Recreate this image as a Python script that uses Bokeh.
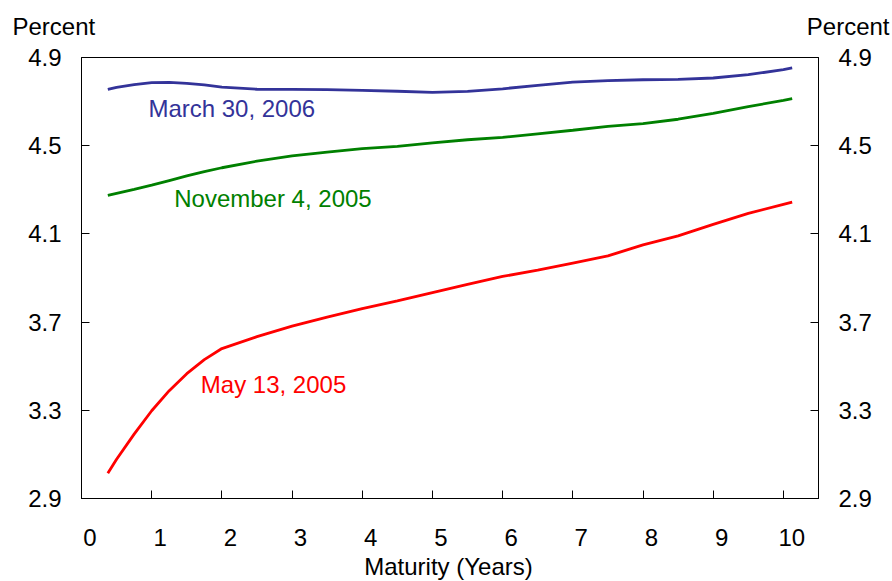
from bokeh.plotting import figure
from bokeh.models import Range1d, LinearAxis, FixedTicker, Label
from bokeh.embed import file_html
from bokeh.resources import INLINE

# ---- data ----
maturity = [0.375, 0.5, 0.75, 1.0, 1.25, 1.5, 1.75, 2.0, 2.5, 3.0, 3.5, 4.0, 4.5, 5.0,
            5.5, 6.0, 6.5, 7.0, 7.5, 8.0, 8.5, 9.0, 9.5, 10.0, 10.125]
mar_2006 = [4.755, 4.765, 4.777, 4.786, 4.787, 4.783, 4.776, 4.766, 4.756, 4.755, 4.754,
            4.751, 4.747, 4.742, 4.746, 4.758, 4.774, 4.788, 4.795, 4.799, 4.801, 4.807,
            4.822, 4.845, 4.853]
nov_2005 = [4.275, 4.284, 4.302, 4.321, 4.342, 4.363, 4.382, 4.400, 4.430, 4.454, 4.471,
            4.487, 4.497, 4.513, 4.527, 4.538, 4.554, 4.570, 4.588, 4.600, 4.620, 4.647,
            4.677, 4.706, 4.714]
may_2005 = [3.014, 3.078, 3.192, 3.298, 3.389, 3.466, 3.530, 3.580, 3.634, 3.682, 3.723,
            3.761, 3.796, 3.834, 3.871, 3.907, 3.936, 3.968, 4.000, 4.050, 4.091, 4.143,
            4.193, 4.234, 4.244]
series_names = ["March 30, 2006", "November 4, 2005", "May 13, 2005"]
x_ticks = [0, 1, 2, 3, 4, 5, 6, 7, 8, 9, 10]
y_ticks = [2.9, 3.3, 3.7, 4.1, 4.5, 4.9]
y_tick_labels = ["2.9", "3.3", "3.7", "4.1", "4.5", "4.9"]
unit_label = "Percent"
x_title = "Maturity (Years)"

FONT = "Liberation Sans"
FS = "24px"
BLUE, GREEN, RED = "#333399", "#008000", "#FF0000"

p = figure(width=892, height=581, x_range=Range1d(0, 10.5), y_range=Range1d(2.9, 4.9),
           output_backend="svg", toolbar_location=None,
           x_axis_location=None, y_axis_location=None,
           min_border_left=81, min_border_right=74, min_border_top=57, min_border_bottom=83)
p.grid.visible = False
p.outline_line_color = "black"
p.outline_line_width = 1
p.background_fill_color = "white"
p.border_fill_color = "white"

p.extra_x_ranges = {"lab": Range1d(-0.12, 10.38)}

# bottom axis: ticks only
ax_t = LinearAxis(ticker=FixedTicker(ticks=x_ticks), major_tick_in=8, major_tick_out=0,
                  minor_tick_line_color=None, axis_line_color="black",
                  major_tick_line_color="black",
                  major_label_overrides={t: "" for t in x_ticks}, major_label_standoff=0)
p.add_layout(ax_t, "below")
# bottom axis: labels (slightly offset right as in original)
ax_l = LinearAxis(x_range_name="lab", ticker=FixedTicker(ticks=x_ticks),
                  major_tick_line_color=None, minor_tick_line_color=None, axis_line_color=None,
                  major_label_text_font=FONT, major_label_text_font_size=FS,
                  major_label_text_color="black", major_label_standoff=24)
p.add_layout(ax_l, "below")

ovr = {t: s for t, s in zip(y_ticks, y_tick_labels)}
for side in ("left", "right"):
    ax = LinearAxis(ticker=FixedTicker(ticks=y_ticks), major_tick_in=8, major_tick_out=0,
                    minor_tick_line_color=None, axis_line_color="black",
                    major_tick_line_color="black", major_label_overrides=ovr,
                    major_label_text_font=FONT, major_label_text_font_size=FS,
                    major_label_text_color="black", major_label_standoff=20)
    p.add_layout(ax, side)

for ys, c in zip([mar_2006, nov_2005, may_2005], [BLUE, GREEN, RED]):
    p.line(maturity, ys, line_color=c, line_width=2.8)

label_pos = [(0.953, 4.670), (1.321, 4.262), (1.70, 3.419)]
for name, (lx, ly), c in zip(series_names, label_pos, [BLUE, GREEN, RED]):
    p.add_layout(Label(x=lx, y=ly, text=name, text_color=c, text_font=FONT,
                       text_font_size=FS, text_baseline="middle", text_align="left"))

# texts outside the frame go into side panels (so they are not clipped)
p.add_layout(Label(x=12, y=26, x_units="canvas", y_units="canvas", text=unit_label,
                   text_font=FONT, text_font_size=FS, text_baseline="middle",
                   text_line_height=0.9, text_align="left", text_color="black"), "above")
p.add_layout(Label(x=889, y=26, x_units="canvas", y_units="canvas", text=unit_label,
                   text_font=FONT, text_font_size=FS, text_baseline="middle",
                   text_line_height=0.9, text_align="right", text_color="black"), "above")
p.add_layout(Label(x=448, y=566, x_units="canvas", y_units="canvas", text=x_title,
                   text_font=FONT, text_font_size=FS, text_baseline="middle",
                   text_line_height=0.9, text_align="center", text_color="black"), "below")

html = file_html(p, INLINE)
html = html.replace("<head>", "<head><style>html,body{overflow:hidden;margin:0}</style>", 1)
open("out.html", "w").write(html)
